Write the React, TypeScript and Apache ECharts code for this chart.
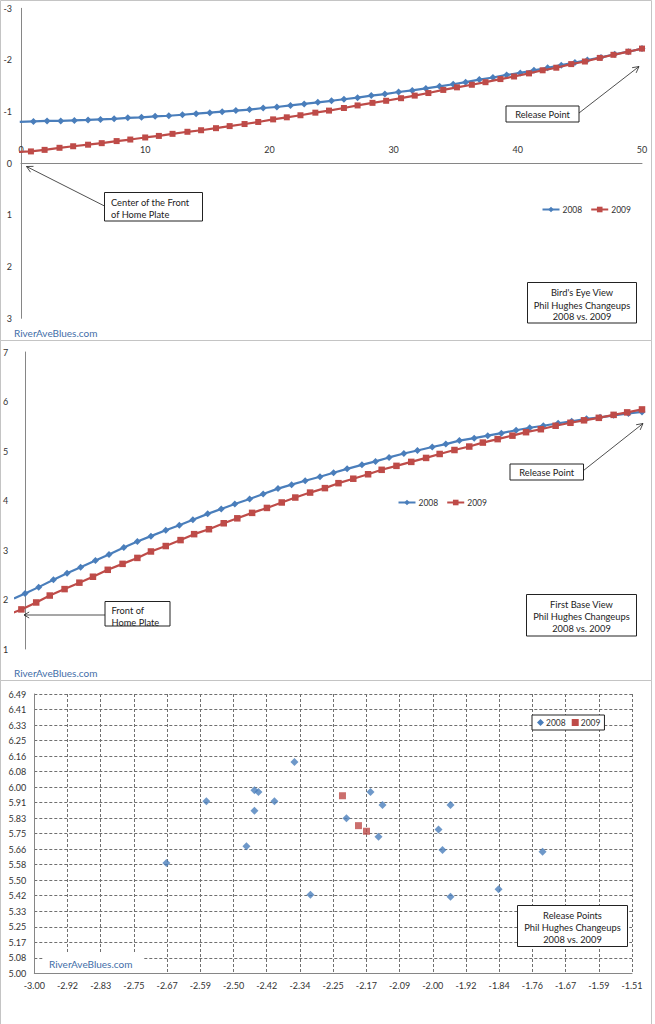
import React, { useEffect, useRef } from 'react';
import * as echarts from 'echarts';

const FONT = 'Lato, "Liberation Sans", sans-serif';
const BLUE = '#4A7EBB';
const RED = '#BE4B48';
const AXIS = '#868686';
const LABEL = '#333333';
const NOTE_SIZE = 9.3;

// ---- Panel 1: Bird's Eye View (distance from plate, horizontal offset) ----
const topX2008 = [-0.1, 1.0, 2.1, 3.2, 4.3, 5.4, 6.4, 7.5, 8.6, 9.7, 10.8, 11.9, 13.0, 14.1, 15.2, 16.2, 17.3, 18.4, 19.5, 20.6, 21.7, 22.8, 23.9, 25.0, 26.0, 27.1, 28.2, 29.3, 30.4, 31.5, 32.6, 33.7, 34.8, 35.8, 36.9, 38.0, 39.1, 40.2, 41.3, 42.4, 43.5, 44.6, 45.6, 46.7, 47.8, 48.9, 50.0];
const topY2008 = [-0.80, -0.81, -0.82, -0.82, -0.83, -0.84, -0.85, -0.86, -0.88, -0.89, -0.91, -0.92, -0.94, -0.96, -0.98, -1.00, -1.02, -1.04, -1.07, -1.09, -1.12, -1.15, -1.18, -1.21, -1.24, -1.27, -1.31, -1.34, -1.38, -1.41, -1.45, -1.49, -1.53, -1.57, -1.62, -1.66, -1.71, -1.75, -1.80, -1.85, -1.90, -1.95, -2.00, -2.05, -2.11, -2.16, -2.22];
const topX2009 = [-0.3, 0.8, 1.9, 3.1, 4.2, 5.4, 6.5, 7.7, 8.8, 10.0, 11.1, 12.2, 13.4, 14.5, 15.7, 16.8, 18.0, 19.1, 20.3, 21.4, 22.5, 23.7, 24.8, 26.0, 27.1, 28.3, 29.4, 30.6, 31.7, 32.8, 34.0, 35.1, 36.3, 37.4, 38.6, 39.7, 40.9, 42.0, 43.1, 44.3, 45.4, 46.6, 47.7, 48.9, 50.0];
const topY2009 = [-0.22, -0.23, -0.26, -0.30, -0.33, -0.36, -0.39, -0.43, -0.46, -0.50, -0.53, -0.57, -0.61, -0.64, -0.68, -0.72, -0.76, -0.80, -0.85, -0.89, -0.93, -0.98, -1.02, -1.07, -1.12, -1.17, -1.21, -1.26, -1.31, -1.36, -1.42, -1.47, -1.52, -1.57, -1.63, -1.68, -1.74, -1.80, -1.85, -1.92, -1.97, -2.04, -2.10, -2.16, -2.22];

// ---- Panel 2: First Base View (distance from plate, height) ----
const midX2008 = [-0.9, 0.0, 1.1, 2.3, 3.4, 4.5, 5.7, 6.8, 8.0, 9.1, 10.2, 11.4, 12.5, 13.6, 14.8, 15.9, 17.0, 18.2, 19.3, 20.5, 21.6, 22.7, 23.9, 25.0, 26.1, 27.3, 28.4, 29.5, 30.7, 31.8, 33.0, 34.1, 35.2, 36.4, 37.5, 38.6, 39.8, 40.9, 42.0, 43.2, 44.3, 45.5, 46.6, 47.7, 48.9, 50.0];
const midY2008 = [2.02, 2.12, 2.25, 2.40, 2.53, 2.65, 2.79, 2.91, 3.05, 3.17, 3.28, 3.40, 3.50, 3.61, 3.73, 3.83, 3.93, 4.03, 4.13, 4.24, 4.32, 4.40, 4.48, 4.56, 4.64, 4.72, 4.79, 4.87, 4.95, 5.01, 5.08, 5.14, 5.21, 5.26, 5.31, 5.36, 5.42, 5.47, 5.51, 5.56, 5.60, 5.65, 5.68, 5.72, 5.76, 5.79];
const midX2009 = [-1.1, -0.3, 0.9, 2.0, 3.2, 4.4, 5.5, 6.7, 7.9, 9.1, 10.2, 11.4, 12.6, 13.7, 14.9, 16.1, 17.2, 18.4, 19.6, 20.8, 21.9, 23.1, 24.3, 25.4, 26.6, 27.8, 28.9, 30.1, 31.3, 32.5, 33.6, 34.8, 36.0, 37.1, 38.3, 39.5, 40.6, 41.8, 43.0, 44.2, 45.3, 46.5, 47.7, 48.8, 50.0];
const midY2009 = [1.72, 1.80, 1.94, 2.08, 2.21, 2.34, 2.46, 2.60, 2.72, 2.84, 2.97, 3.08, 3.20, 3.32, 3.42, 3.54, 3.64, 3.75, 3.85, 3.96, 4.06, 4.16, 4.25, 4.35, 4.44, 4.53, 4.62, 4.70, 4.78, 4.86, 4.94, 5.02, 5.09, 5.17, 5.24, 5.31, 5.38, 5.44, 5.51, 5.57, 5.62, 5.67, 5.73, 5.78, 5.84];

// ---- Panel 3: Release Points ----
const relX2008 = [-2.35, -2.57, -2.45, -2.44, -2.40, -2.45, -2.47, -2.67, -2.31, -2.16, -2.22, -2.13, -2.14, -1.96, -1.99, -1.98, -1.96, -1.84, -1.73];
const relY2008 = [6.13, 5.92, 5.98, 5.97, 5.92, 5.87, 5.68, 5.59, 5.42, 5.97, 5.83, 5.90, 5.73, 5.90, 5.77, 5.66, 5.41, 5.45, 5.65];
const relX2009 = [-2.23, -2.19, -2.17];
const relY2009 = [5.95, 5.79, 5.76];

// Release-point axis ticks (Excel fixed min with 18 equal steps)
const REL_X_MIN = -3.0;
const REL_X_STEP = 0.08297;
const REL_Y_MIN = 5.0;
const REL_Y_STEP = 0.08302;
const REL_STEPS = 18;

const seriesNames = ['2008', '2009'];
const boxTitles = [
  ["Bird's Eye View", 'Phil Hughes Changeups', '2008 vs. 2009'],
  ['First Base View', 'Phil Hughes Changeups', '2008 vs. 2009'],
  ['Release Points', 'Phil Hughes Changeups', '2008 vs. 2009'],
];
const WATERMARK = 'RiverAveBlues.com';

function pairs(xs: number[], ys: number[]) {
  return xs.map((x, i) => [x, ys[i]]);
}

function txt(text: string, x: number, y: number, align: string, size = NOTE_SIZE, color = '#222') {
  return {
    type: 'text',
    z: 101,
    x,
    y,
    style: {
      text,
      fill: color,
      fontSize: size,
      fontFamily: FONT,
      align,
      verticalAlign: 'middle',
      textAlign: align,
      textVerticalAlign: 'middle',
    },
  };
}

function rectBox(x: number, y: number, w: number, h: number) {
  return {
    type: 'rect',
    z: 100,
    shape: { x, y, width: w, height: h },
    style: { fill: '#fff', stroke: '#222', lineWidth: 1 },
  };
}

function arrow(x1: number, y1: number, x2: number, y2: number, len = 7, angDeg = 28) {
  const dx = x1 - x2;
  const dy = y1 - y2;
  const L = Math.hypot(dx, dy);
  const ux = dx / L;
  const uy = dy / L;
  const a = (angDeg * Math.PI) / 180;
  const c = Math.cos(a);
  const s = Math.sin(a);
  const w1 = [x2 + len * (ux * c - uy * s), y2 + len * (ux * s + uy * c)];
  const w2 = [x2 + len * (ux * c + uy * s), y2 + len * (-ux * s + uy * c)];
  return [
    { type: 'line', z: 100, shape: { x1, y1, x2, y2 }, style: { stroke: '#222', lineWidth: 0.8 } },
    {
      type: 'polyline',
      z: 100,
      shape: { points: [w1, [x2, y2], w2] },
      style: { stroke: '#222', lineWidth: 0.8, fill: null },
    },
  ];
}

function titleBox(x: number, y: number, w: number, h: number, lines: string[], cx: number, ys: number[]) {
  return [rectBox(x, y, w, h), ...lines.map((l, i) => txt(l, cx, ys[i], 'center'))];
}

export default function App() {
  const ref = useRef<HTMLDivElement>(null);

  useEffect(() => {
    if (!ref.current) return;
    const chart = echarts.init(ref.current, undefined, { renderer: 'svg' });

    const axisLabel = { fontSize: 9, color: LABEL, fontFamily: FONT };
    const legendText = { fontSize: 8.5, color: LABEL, fontFamily: FONT, padding: [0, 0, 0, -2] };
    const dashed = { show: true, lineStyle: { type: [3, 2], color: '#707070', width: 1 } };
    const relXMax = REL_X_MIN + REL_STEPS * REL_X_STEP;
    const relYMax = REL_Y_MIN + REL_STEPS * REL_Y_STEP;

    // top panel: grid top 8.3, height 310, y range -3..3 → zero line is 155px below the top edge
    const TOP_GRID_TOP = 8.3;
    const TOP_GRID_H = 310;

    const lineSeries = (
      name: string,
      idx: number,
      data: number[][],
      color: string,
      symbol: string,
      size: number
    ) => ({
      type: 'line',
      name,
      xAxisIndex: idx,
      yAxisIndex: idx,
      data,
      color,
      symbol,
      symbolSize: size,
      showSymbol: true,
      clip: true,
      lineStyle: { width: 2.2, color },
      itemStyle: { color },
      emphasis: { disabled: true },
      z: name === '2009' ? 3 : 2,
    });

    const frame = (y: number, h: number) => ({
      type: 'rect',
      z: -1,
      silent: true,
      shape: { x: 0.5, y, width: 651, height: h },
      style: { fill: 'none', stroke: '#c4c4c4', lineWidth: 1 },
    });

    const graphic: any[] = [
      frame(0.5, 340),
      frame(340.5, 340),
      frame(680.5, 350),
      // watermarks
      txt(WATERMARK, 14, 333, 'left', 10, '#3f6ea8'),
      txt(WATERMARK, 14, 673, 'left', 10, '#3f6ea8'),
      { type: 'rect', z: 100, shape: { x: 43, y: 952, width: 100, height: 20 }, style: { fill: '#fff' } },
      txt(WATERMARK, 49, 964, 'left', 10, '#3f6ea8'),
      // panel 1 annotations
      rectBox(104.5, 192.5, 98, 28.5),
      txt('Center of the Front', 111, 202.5, 'left'),
      txt('of Home Plate', 111, 214.5, 'left'),
      ...arrow(104.5, 206, 26.5, 166.5),
      rectBox(506, 106, 73, 16),
      txt('Release Point', 542.5, 114, 'center'),
      ...arrow(579, 113, 639, 66.5),
      ...titleBox(527.5, 282.5, 109, 40.5, boxTitles[0], 582, [292.5, 305, 316.5]),
      // panel 2 annotations
      rectBox(105, 601.5, 65, 24.5),
      txt('Front of', 111.5, 610.5, 'left'),
      txt('Home Plate', 111.5, 622.5, 'left'),
      ...arrow(105, 615, 24, 615, 6, 30),
      rectBox(510, 464, 73.5, 16),
      txt('Release Point', 546.7, 472.3, 'center'),
      ...arrow(583.5, 470.5, 643, 423.5),
      ...titleBox(526.5, 594.5, 110, 41.5, boxTitles[1], 581.5, [604, 616.5, 628.5]),
      // panel 3 annotations
      ...titleBox(517.5, 905.5, 110, 41, boxTitles[2], 572.5, [915, 927.5, 939.5]),
    ];

    chart.setOption({
      animation: false,
      backgroundColor: '#fff',
      textStyle: { fontFamily: FONT },
      grid: [
        { left: 21, right: 13, top: TOP_GRID_TOP, height: TOP_GRID_H },
        { left: 12.1, right: 13, top: 352, height: 297 },
        { left: 34.3, right: 23, top: 694, height: 279.3 },
      ],
      xAxis: [
        {
          gridIndex: 0,
          type: 'value',
          position: 'top',
          offset: -TOP_GRID_H / 2,
          min: 0,
          max: 50,
          interval: 10,
          axisLine: { show: true, onZero: false, lineStyle: { color: AXIS, width: 1 } },
          axisTick: { show: false },
          axisLabel: { ...axisLabel, margin: 9 },
          splitLine: { show: false },
        },
        {
          gridIndex: 1,
          type: 'value',
          min: -0.8,
          max: 50,
          interval: 10,
          axisLine: { show: false, onZero: false },
          axisTick: { show: false },
          axisLabel: { show: false },
          splitLine: { show: false },
        },
        {
          gridIndex: 2,
          type: 'value',
          min: REL_X_MIN,
          max: relXMax,
          interval: REL_X_STEP,
          axisLine: { show: true, onZero: false, lineStyle: { color: AXIS, width: 1 } },
          axisTick: { show: false },
          axisLabel: { ...axisLabel, margin: 8, formatter: (v: number) => v.toFixed(2) },
          splitLine: dashed,
        },
      ],
      yAxis: [
        {
          gridIndex: 0,
          type: 'value',
          min: -3,
          max: 3,
          interval: 1,
          inverse: true,
          axisLine: { show: true, onZero: false, lineStyle: { color: AXIS, width: 1 } },
          axisTick: { show: false },
          axisLabel: { ...axisLabel, margin: 9 },
          splitLine: { show: false },
        },
        {
          gridIndex: 1,
          type: 'value',
          min: 1,
          max: 7,
          interval: 1,
          axisLine: { show: true, onZero: true, lineStyle: { color: AXIS, width: 1 } },
          axisTick: { show: false },
          axisLabel: { ...axisLabel, margin: 7 },
          splitLine: { show: false },
        },
        {
          gridIndex: 2,
          type: 'value',
          min: REL_Y_MIN,
          max: relYMax,
          interval: REL_Y_STEP,
          axisLine: { show: true, onZero: false, lineStyle: { color: AXIS, width: 1 } },
          axisTick: { show: false },
          axisLabel: { ...axisLabel, margin: 8, formatter: (v: number) => v.toFixed(2) },
          splitLine: dashed,
        },
      ],
      legend: [
        {
          data: seriesNames,
          left: 541.5,
          top: 205,
          padding: 0,
          itemWidth: 17,
          itemHeight: 7,
          itemGap: 8,
          selectedMode: false,
          textStyle: legendText,
        },
        {
          data: seriesNames,
          left: 397.5,
          top: 498,
          padding: 0,
          itemWidth: 17,
          itemHeight: 7,
          itemGap: 8,
          selectedMode: false,
          textStyle: legendText,
        },
        {
          data: [
            { name: seriesNames[0], icon: 'diamond' },
            { name: seriesNames[1], icon: 'rect' },
          ],
          left: 532,
          top: 715,
          itemWidth: 7,
          itemHeight: 7,
          itemGap: 6,
          padding: [3, 4, 3, 5],
          borderColor: '#222',
          borderWidth: 1,
          backgroundColor: '#fff',
          selectedMode: false,
          textStyle: { ...legendText, padding: [0, 0, 0, -3] },
        },
      ],
      series: [
        lineSeries(seriesNames[0], 0, pairs(topX2008, topY2008), BLUE, 'diamond', 7),
        lineSeries(seriesNames[1], 0, pairs(topX2009, topY2009), RED, 'rect', 6),
        lineSeries(seriesNames[0], 1, pairs(midX2008, midY2008), BLUE, 'diamond', 7),
        lineSeries(seriesNames[1], 1, pairs(midX2009, midY2009), RED, 'rect', 6.5),
        {
          type: 'scatter',
          name: seriesNames[0],
          xAxisIndex: 2,
          yAxisIndex: 2,
          data: pairs(relX2008, relY2008),
          symbol: 'diamond',
          symbolSize: 8,
          itemStyle: { color: BLUE },
          emphasis: { disabled: true },
        },
        {
          type: 'scatter',
          name: seriesNames[1],
          xAxisIndex: 2,
          yAxisIndex: 2,
          data: pairs(relX2009, relY2009),
          symbol: 'rect',
          symbolSize: 7,
          itemStyle: { color: RED },
          emphasis: { disabled: true },
        },
      ],
      graphic,
    });

    return () => chart.dispose();
  }, []);

  return (
    <div
      ref={ref}
      style={{ position: 'absolute', left: 0, top: 0, width: 655, height: 1024, background: '#fff' }}
    />
  );
}
